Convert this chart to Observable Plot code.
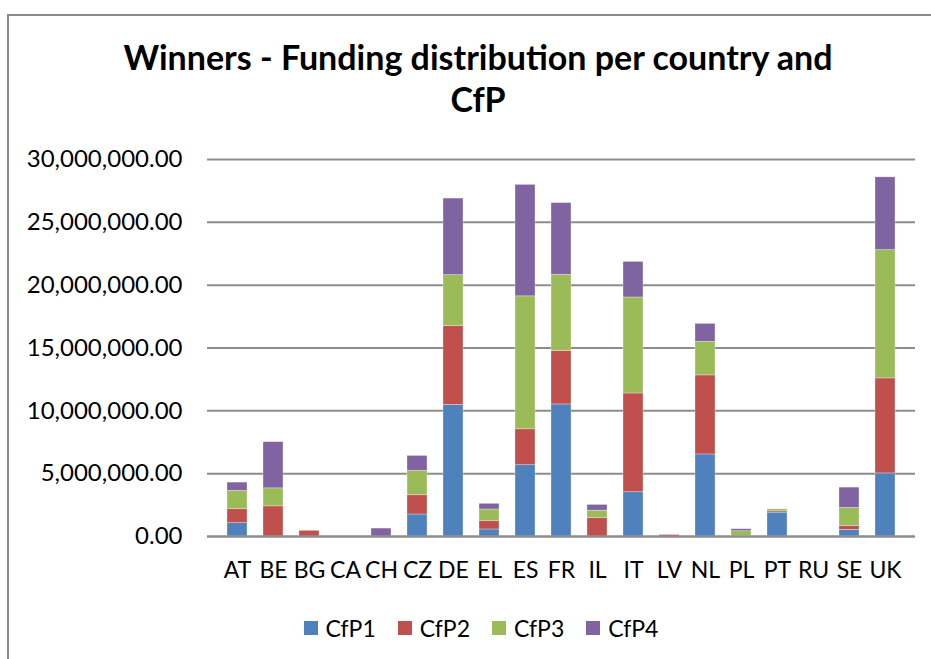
<!DOCTYPE html>
<html>
<head>
<meta charset="utf-8">
<script src="https://cdn.jsdelivr.net/npm/d3@7"></script>
<script src="https://cdn.jsdelivr.net/npm/@observablehq/plot@0.6"></script>
<style>
  html, body { margin: 0; padding: 0; background: #fff; overflow: hidden; }
  #wrap { position: relative; width: 931px; height: 659px; font-family: Lato, "Open Sans", sans-serif; }
  #frame { position: absolute; left: 7px; top: 14px; width: 940px; height: 660px; border: 2px solid #8c8c8c; box-sizing: border-box; }
  #title { position: absolute; left: 25px; width: 906px; top: 36px; text-align: center; font-weight: 700; font-size: 34px; line-height: 42px; color: #000; }
  #chart { position: absolute; left: 0; top: 140px; }
  #legend { position: absolute; left: 25px; width: 912px; top: 614px; display: flex; justify-content: center; align-items: center; font-size: 23px; color: #000; }
  .item { display: flex; align-items: center; margin: 0 11px; }
  .sw { width: 14px; height: 14px; margin-right: 8px; }
</style>
</head>
<body>
<div id="wrap">
  <div id="frame"></div>
  <div id="title">Winners - Funding distribution per country and<br>CfP</div>
  <div id="chart"></div>
  <div id="legend"></div>
</div>
<script>
const countries = ["AT","BE","BG","CA","CH","CZ","DE","EL","ES","FR","IL","IT","LV","NL","PL","PT","RU","SE","UK"];
const series = ["CfP1","CfP2","CfP3","CfP4"];
const colors = ["#4f81bd","#c0504d","#9bbb59","#8064a2"];
const cfp1 = [1060000,0,0,0,0,1750000,10480000,560000,5670000,10510000,0,3520000,0,6530000,0,1900000,0,520000,5020000];
const cfp2 = [1110000,2400000,450000,0,0,1530000,6270000,690000,2860000,4250000,1460000,7860000,120000,6290000,0,100000,0,320000,7560000];
const cfp3 = [1460000,1430000,0,0,0,1940000,4050000,900000,10580000,6060000,600000,7640000,0,2670000,420000,160000,0,1430000,10210000];
const cfp4 = [660000,3680000,0,0,630000,1190000,6090000,450000,8870000,5710000,450000,2830000,0,1430000,160000,0,0,1620000,5790000];
const yTicks = [0,5000000,10000000,15000000,20000000,25000000,30000000];

const values = [cfp1, cfp2, cfp3, cfp4];
const rows = [];
countries.forEach((c, i) => {
  series.forEach((s, j) => rows.push({country: c, cfp: s, value: values[j][i]}));
});

const chart = Plot.plot({
  width: 931,
  height: 450,
  marginLeft: 207,
  marginRight: 16,
  marginTop: 19,
  marginBottom: 54,
  style: {fontFamily: "Lato, 'Open Sans', sans-serif", fontSize: "23px", color: "#000", background: "transparent", overflow: "visible"},
  x: {domain: countries, padding: 0.44, label: null, tickSize: 0, tickPadding: 25},
  y: {domain: [0, 30000000], ticks: yTicks, tickFormat: d3.format(",.2f"), label: null, tickSize: 0, tickPadding: 25},
  color: {domain: series, range: colors},
  marks: [
    Plot.gridY(yTicks, {stroke: "#8c8c8c", strokeOpacity: 1, strokeWidth: 2}),
    Plot.barY(rows, {x: "country", y: "value", fill: "cfp", stroke: "#ffffff", strokeWidth: 0.6, strokeOpacity: 0.5}),
    Plot.ruleY([0], {stroke: "#8c8c8c", strokeWidth: 2}),
    Plot.axisY({ticks: yTicks, tickFormat: d3.format(",.2f"), tickSize: 0, tickPadding: 25, fontSize: 24, label: null})
  ]
});
document.getElementById("chart").appendChild(chart);

const legend = document.getElementById("legend");
series.forEach((s, i) => {
  const item = document.createElement("div");
  item.className = "item";
  const sw = document.createElement("div");
  sw.className = "sw";
  sw.style.background = colors[i];
  const t = document.createElement("span");
  t.textContent = s;
  item.appendChild(sw);
  item.appendChild(t);
  legend.appendChild(item);
});
</script>
</body>
</html>
